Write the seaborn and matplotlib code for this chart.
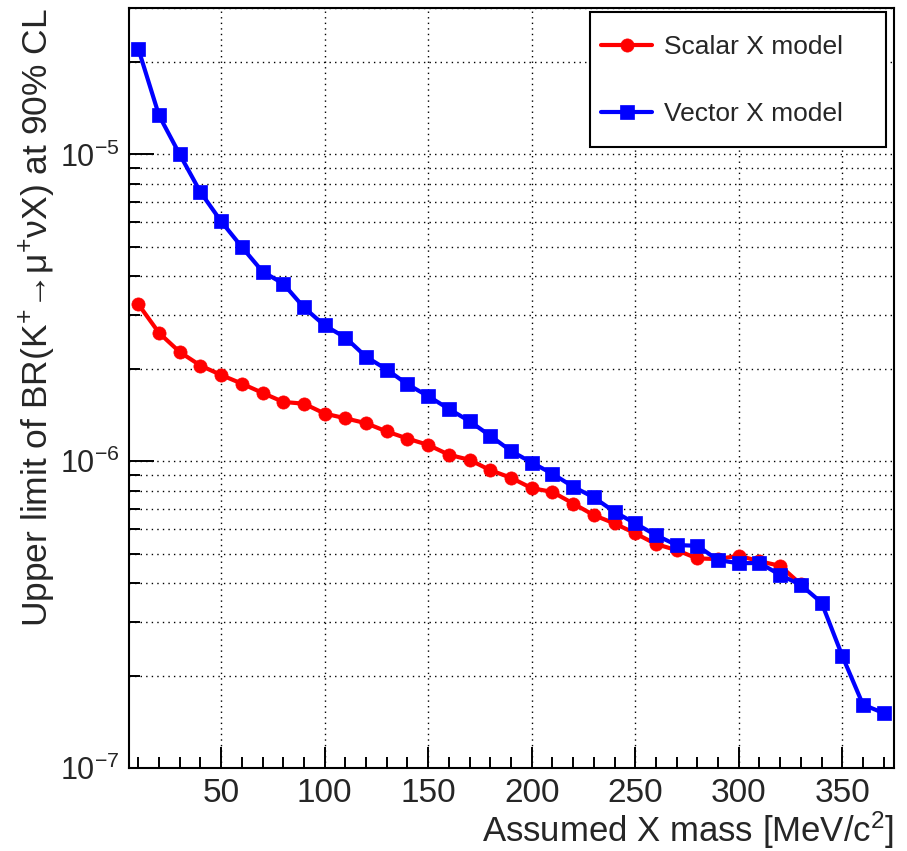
import matplotlib
matplotlib.use("Agg")
import matplotlib.pyplot as plt
from matplotlib.patches import Rectangle
from matplotlib.ticker import MultipleLocator, LogLocator, NullFormatter, FixedLocator
import pandas as pd
import seaborn as sns

# Upper limits on BR(K+ -> mu+ nu X) at 90% CL versus the assumed X mass
mass_scalar = [10, 20, 30, 40, 50, 60, 70, 80, 90, 100, 110, 120, 130, 140, 150,
               160, 170, 180, 190, 200, 210, 220, 230, 240, 250, 260, 270, 280,
               290, 300, 310, 320, 330]
limit_scalar = [3.25e-6, 2.62e-6, 2.27e-6, 2.05e-6, 1.91e-6, 1.79e-6, 1.67e-6,
                1.56e-6, 1.54e-6, 1.43e-6, 1.38e-6, 1.33e-6, 1.25e-6, 1.185e-6,
                1.13e-6, 1.05e-6, 1.01e-6, 9.35e-7, 8.83e-7, 8.17e-7, 7.94e-7,
                7.28e-7, 6.67e-7, 6.27e-7, 5.82e-7, 5.37e-7, 5.13e-7, 4.82e-7,
                4.80e-7, 4.92e-7, 4.72e-7, 4.56e-7, 3.97e-7]

mass_vector = [10, 20, 30, 40, 50, 60, 70, 80, 90, 100, 110, 120, 130, 140, 150,
               160, 170, 180, 190, 200, 210, 220, 230, 240, 250, 260, 270, 280,
               290, 300, 310, 320, 330, 340, 350, 360, 370]
limit_vector = [2.21e-5, 1.34e-5, 1.00e-5, 7.54e-6, 6.05e-6, 4.99e-6, 4.15e-6,
                3.79e-6, 3.17e-6, 2.77e-6, 2.53e-6, 2.19e-6, 1.99e-6, 1.78e-6,
                1.63e-6, 1.48e-6, 1.35e-6, 1.21e-6, 1.08e-6, 9.9e-7, 9.1e-7,
                8.26e-7, 7.62e-7, 6.84e-7, 6.27e-7, 5.74e-7, 5.33e-7, 5.30e-7,
                4.76e-7, 4.65e-7, 4.66e-7, 4.26e-7, 3.95e-7, 3.46e-7, 2.32e-7,
                1.61e-7, 1.51e-7]

x_major_ticks = [50, 100, 150, 200, 250, 300, 350]
x_tick_labels = ["50", "100", "150", "200", "250", "300", "350"]

sns.set_style("white")
plt.rcParams["font.family"] = ["Liberation Sans", "DejaVu Sans"]
plt.rcParams["mathtext.fontset"] = "custom"
plt.rcParams["mathtext.rm"] = "Liberation Sans"
plt.rcParams["mathtext.it"] = "Liberation Sans:italic"
plt.rcParams["mathtext.bf"] = "Liberation Sans:bold"
plt.rcParams["mathtext.sf"] = "Liberation Sans"

fig = plt.figure(figsize=(9.07, 8.51), dpi=100)
fig.patch.set_facecolor("white")
ax = fig.add_axes([0.1422, 0.0975, 0.8435, 0.8931])

scalar_df = pd.DataFrame({"mass": mass_scalar, "limit": limit_scalar})
vector_df = pd.DataFrame({"mass": mass_vector, "limit": limit_vector})

sns.lineplot(data=scalar_df, x="mass", y="limit", ax=ax, color="#ff0000",
             linewidth=3.0, marker="o", markersize=9.5,
             markeredgecolor="#ff0000", markeredgewidth=0.5,
             label="Scalar X model")
sns.lineplot(data=vector_df, x="mass", y="limit", ax=ax, color="#0000ff",
             linewidth=3.0, marker="s", markersize=10.5,
             markeredgecolor="#0000ff", markeredgewidth=0.5,
             label="Vector X model")

ax.set_yscale("log")
ax.set_xlim(5.5, 375)
ax.set_ylim(1e-7, 3e-5)

ax.xaxis.set_major_locator(FixedLocator(x_major_ticks))
ax.set_xticklabels(x_tick_labels)
ax.xaxis.set_minor_locator(MultipleLocator(10))
ax.yaxis.set_major_locator(LogLocator(base=10))
ax.yaxis.set_minor_locator(LogLocator(base=10, subs=range(2, 10)))
ax.yaxis.set_minor_formatter(NullFormatter())

grid_style = dict(color="black", linestyle=(0, (1, 3)), linewidth=1.0)
ax.grid(True, which="major", axis="x", **grid_style)
ax.grid(True, which="both", axis="y", **grid_style)

ax.tick_params(which="both", direction="in", bottom=True, left=True,
               top=False, right=False, width=1.4, color="black", pad=7)
ax.tick_params(axis="x", which="major", length=15, labelsize=24)
ax.tick_params(axis="x", which="minor", length=8)
ax.tick_params(axis="y", which="major", length=18, labelsize=22)
ax.tick_params(axis="y", which="minor", length=8)

for spine in ax.spines.values():
    spine.set_color("black")
    spine.set_linewidth(1.5)

ax.set_xlabel("Assumed X mass [MeV/c$^{2}$]", fontsize=25, loc="right")
ax.xaxis.set_label_coords(1.0, -0.055)
ax.set_ylabel("Upper limit of BR(K$^{+}$\u2192\u03bc$^{+}$\u03bdX) at 90% CL",
              fontsize=25.5, loc="top")
ax.yaxis.set_label_coords(-0.093, 1.0)

# Legend entries without their own frame; the box is drawn as a separate
# white rectangle inside the axes so its padding can differ horizontally
# and vertically.
legend_box = Rectangle((590 / 907, 1 - 147 / 851), 296 / 907, 135 / 851,
                       transform=fig.transFigure, facecolor="white",
                       edgecolor="black", linewidth=1.5, zorder=4,
                       clip_on=False)
ax.add_patch(legend_box)
leg = ax.legend(loc="upper left", bbox_to_anchor=(601 / 907, 1 - 35 / 851),
                bbox_transform=fig.transFigure, fontsize=19, frameon=False,
                handlelength=1.95, handletextpad=0.42, labelspacing=1.64,
                borderpad=0.0, borderaxespad=0)
leg.set_zorder(5)

fig.savefig("out.png", dpi=100, facecolor="white")
